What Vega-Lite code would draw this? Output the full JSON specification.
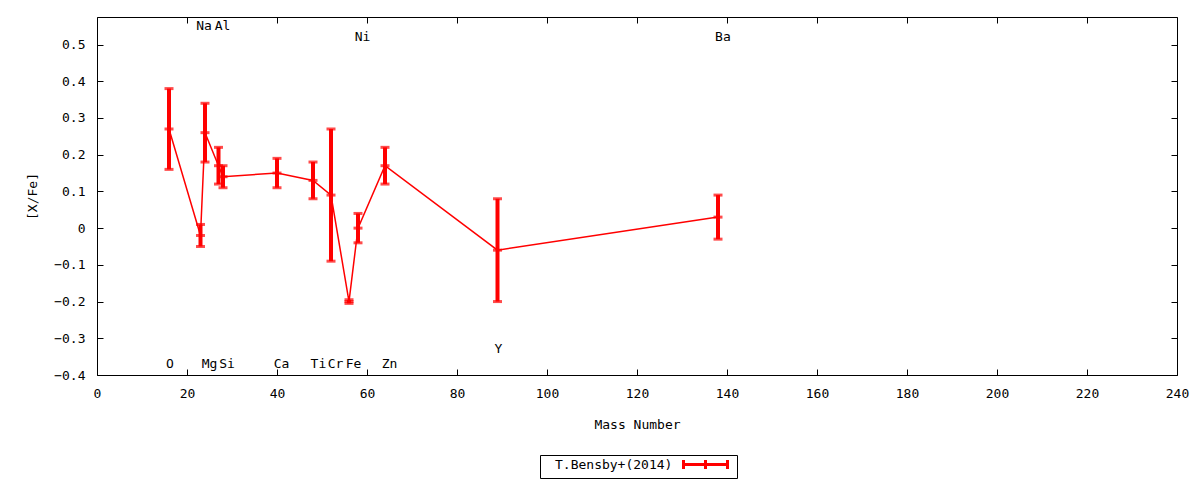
{
  "$schema": "https://vega.github.io/schema/vega-lite/v6.json",
  "autosize": "none",
  "width": 1080,
  "height": 358,
  "padding": {"left": 97, "top": 17, "right": 23, "bottom": 105},
  "background": "white",
  "config": {
    "font": "DejaVu Sans Mono",
    "view": {"stroke": "black", "strokeWidth": 1},
    "axis": {"grid": false, "labelFont": "DejaVu Sans Mono", "titleFont": "DejaVu Sans Mono", "labelFontSize": 13, "titleFontSize": 13, "titleFontWeight": "normal", "labelColor": "black", "titleColor": "black", "tickColor": "black", "domain": false}
  },
  "datasets": {
    "pts": [
      {"series": "T.Bensby+(2014)", "el": "O", "A": 16, "val": 0.27, "lo": 0.16, "hi": 0.38},
      {"series": "T.Bensby+(2014)", "el": "Na", "A": 23, "val": -0.02, "lo": -0.05, "hi": 0.01},
      {"series": "T.Bensby+(2014)", "el": "Mg", "A": 24, "val": 0.26, "lo": 0.18, "hi": 0.34},
      {"series": "T.Bensby+(2014)", "el": "Al", "A": 27, "val": 0.17, "lo": 0.12, "hi": 0.22},
      {"series": "T.Bensby+(2014)", "el": "Si", "A": 28, "val": 0.14, "lo": 0.11, "hi": 0.17},
      {"series": "T.Bensby+(2014)", "el": "Ca", "A": 40, "val": 0.15, "lo": 0.11, "hi": 0.19},
      {"series": "T.Bensby+(2014)", "el": "Ti", "A": 48, "val": 0.13, "lo": 0.08, "hi": 0.18},
      {"series": "T.Bensby+(2014)", "el": "Cr", "A": 52, "val": 0.09, "lo": -0.09, "hi": 0.27},
      {"series": "T.Bensby+(2014)", "el": "Fe", "A": 56, "val": -0.2, "lo": -0.205, "hi": -0.195},
      {"series": "T.Bensby+(2014)", "el": "Ni", "A": 58, "val": 0.0, "lo": -0.04, "hi": 0.04},
      {"series": "T.Bensby+(2014)", "el": "Zn", "A": 64, "val": 0.17, "lo": 0.12, "hi": 0.22},
      {"series": "T.Bensby+(2014)", "el": "Y", "A": 89, "val": -0.06, "lo": -0.2, "hi": 0.08},
      {"series": "T.Bensby+(2014)", "el": "Ba", "A": 138, "val": 0.03, "lo": -0.03, "hi": 0.09}
    ],
    "elabels": [
      {"el": "O", "lx": 16.2, "ly": -0.37},
      {"el": "Mg", "lx": 25, "ly": -0.37},
      {"el": "Si", "lx": 28.9, "ly": -0.37},
      {"el": "Ca", "lx": 41, "ly": -0.37},
      {"el": "Ti", "lx": 49.2, "ly": -0.37},
      {"el": "Cr", "lx": 53, "ly": -0.37},
      {"el": "Fe", "lx": 57, "ly": -0.37},
      {"el": "Zn", "lx": 65, "ly": -0.37},
      {"el": "Y", "lx": 89.2, "ly": -0.33},
      {"el": "Na", "lx": 23.8, "ly": 0.55},
      {"el": "Al", "lx": 27.9, "ly": 0.55},
      {"el": "Ni", "lx": 59, "ly": 0.52},
      {"el": "Ba", "lx": 139.1, "ly": 0.52}
    ]
  },
  "resolve": {"axis": {"x": "independent", "y": "independent"}},
  "layer": [
    {
      "data": {"name": "pts"},
      "mark": {"type": "line", "color": "red", "strokeWidth": 1.5},
      "encoding": {
        "x": {"field": "A", "type": "quantitative", "scale": {"domain": [0, 240], "nice": false},
          "axis": {"orient": "bottom", "values": [0,20,40,60,80,100,120,140,160,180,200,220,240], "tickSize": -6, "labelPadding": 18, "title": "Mass Number", "titlePadding": 18, "labelFlush": false}},
        "y": {"field": "val", "type": "quantitative", "scale": {"domain": [-0.4, 0.575], "nice": false, "zero": false},
          "axis": {"orient": "left", "values": [-0.4,-0.3,-0.2,-0.1,0,0.1,0.2,0.3,0.4,0.5], "tickSize": -6, "labelPadding": 18, "title": "[X/Fe]", "titlePadding": 14, "labelFlush": false,
            "format": ".1~f"}},
        "color": {"field": "series", "type": "nominal",
          "scale": {"range": ["red"]},
          "legend": {"title": null, "orient": "none", "legendX": 443, "legendY": 438,
            "strokeColor": "black", "padding": 3,
            "labelFont": "DejaVu Sans Mono", "labelFontSize": 13, "labelColor": "black",
            "symbolType": "M-4.4,0H4.4M-4.4,-0.9V0.9M4.4,-0.9V0.9M0,-0.9V0.9",
            "symbolSize": 100, "symbolStrokeWidth": 3, "symbolStrokeColor": "red", "symbolFillColor": "transparent",
            "symbolOffset": 156, "labelOffset": -157}}
      }
    },
    {
      "data": {"name": "pts"},
      "mark": {"type": "rule", "color": "red", "strokeWidth": 4},
      "encoding": {
        "x": {"field": "A", "type": "quantitative", "axis": {"orient": "top", "values": [0,20,40,60,80,100,120,140,160,180,200,220,240], "tickSize": -6, "labels": false, "title": null}},
        "y": {"field": "lo", "type": "quantitative", "axis": {"orient": "right", "values": [-0.4,-0.3,-0.2,-0.1,0,0.1,0.2,0.3,0.4,0.5], "tickSize": -6, "labels": false, "title": null}},
        "y2": {"field": "hi"}
      }
    },
    {
      "data": {"name": "pts"},
      "mark": {"type": "tick", "color": "red", "orient": "horizontal", "size": 9, "thickness": 3},
      "encoding": {
        "x": {"field": "A", "type": "quantitative", "axis": null},
        "y": {"field": "lo", "type": "quantitative", "axis": null}
      }
    },
    {
      "data": {"name": "pts"},
      "mark": {"type": "tick", "color": "red", "orient": "horizontal", "size": 9, "thickness": 3},
      "encoding": {
        "x": {"field": "A", "type": "quantitative", "axis": null},
        "y": {"field": "hi", "type": "quantitative", "axis": null}
      }
    },
    {
      "data": {"name": "pts"},
      "mark": {"type": "tick", "color": "red", "orient": "horizontal", "size": 9, "thickness": 3},
      "encoding": {
        "x": {"field": "A", "type": "quantitative", "axis": null},
        "y": {"field": "val", "type": "quantitative", "axis": null}
      }
    },
    {
      "data": {"name": "elabels"},
      "mark": {"type": "text", "font": "DejaVu Sans Mono", "fontSize": 13, "color": "black", "align": "center", "baseline": "middle"},
      "encoding": {
        "x": {"field": "lx", "type": "quantitative", "axis": null},
        "y": {"field": "ly", "type": "quantitative", "axis": null},
        "text": {"field": "el"}
      }
    }
  ]
}
